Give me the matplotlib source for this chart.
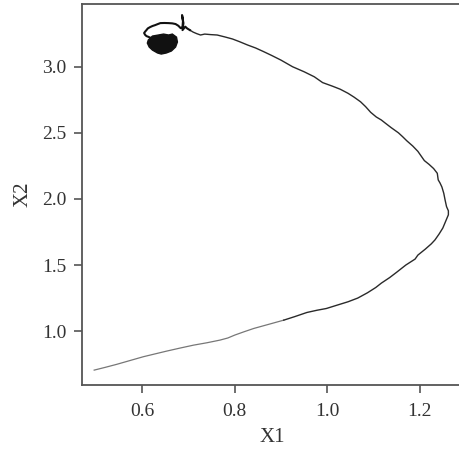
import matplotlib
matplotlib.use("Agg")
from matplotlib import pyplot as plt

# trajectory, in time order (start at lower left)
x1 = [0.496, 0.520, 0.544, 0.572, 0.602, 0.628, 0.653, 0.682, 0.711, 0.740,
      0.768, 0.785, 0.800, 0.820, 0.841, 0.872, 0.906, 0.930, 0.956, 0.978,
      0.998, 1.020, 1.045, 1.066, 1.087, 1.105, 1.117, 1.135, 1.150, 1.170,
      1.190, 1.196, 1.212, 1.225, 1.233, 1.242, 1.250, 1.256, 1.262, 1.262,
      1.258, 1.255, 1.252, 1.248, 1.244, 1.240, 1.238, 1.230, 1.220, 1.210,
      1.204, 1.196, 1.185, 1.172, 1.163, 1.154, 1.138, 1.125, 1.117, 1.106,
      1.094, 1.083, 1.072, 1.058, 1.045, 1.028, 1.012, 0.990, 0.972, 0.950,
      0.925, 0.900, 0.880, 0.862, 0.845, 0.828, 0.810, 0.795, 0.778, 0.762,
      0.748, 0.735, 0.726, 0.718, 0.710, 0.703, 0.697, 0.693, 0.687, 0.689,
      0.686, 0.688, 0.687, 0.683, 0.678, 0.672, 0.665, 0.657, 0.648, 0.639,
      0.633, 0.628, 0.622, 0.617, 0.612, 0.609, 0.606, 0.604, 0.606, 0.609,
      0.614, 0.620]
x2 = [0.705, 0.726, 0.748, 0.776, 0.806, 0.828, 0.849, 0.872, 0.894, 0.912,
      0.932, 0.948, 0.970, 0.995, 1.020, 1.050, 1.083, 1.110, 1.141, 1.158,
      1.171, 1.195, 1.222, 1.250, 1.290, 1.330, 1.363, 1.405, 1.445, 1.500,
      1.545, 1.575, 1.620, 1.660, 1.690, 1.735, 1.780, 1.830, 1.880, 1.910,
      1.942, 1.990, 2.043, 2.090, 2.120, 2.144, 2.194, 2.230, 2.262, 2.290,
      2.320, 2.360, 2.400, 2.440, 2.471, 2.500, 2.540, 2.575, 2.597, 2.620,
      2.655, 2.698, 2.735, 2.770, 2.799, 2.830, 2.852, 2.880, 2.924, 2.962,
      3.000, 3.050, 3.085, 3.115, 3.142, 3.164, 3.190, 3.210, 3.226, 3.240,
      3.243, 3.247, 3.240, 3.250, 3.262, 3.277, 3.290, 3.303, 3.277, 3.330,
      3.391, 3.345, 3.300, 3.292, 3.310, 3.323, 3.328, 3.330, 3.331, 3.330,
      3.322, 3.315, 3.308, 3.300, 3.290, 3.277, 3.265, 3.255, 3.242, 3.232,
      3.225, 3.215]

# dense cluster at the end of the path (outline of the filled blob)
blob_x1 = [0.613, 0.622, 0.635, 0.646, 0.657, 0.665, 0.674, 0.676, 0.672,
           0.663, 0.652, 0.641, 0.633, 0.622, 0.615, 0.611]
blob_x2 = [3.202, 3.232, 3.240, 3.247, 3.240, 3.247, 3.224, 3.187, 3.149,
           3.119, 3.104, 3.096, 3.104, 3.126, 3.149, 3.179]

xticks = [0.6, 0.8, 1.0, 1.2]
yticks = [1.0, 1.5, 2.0, 2.5, 3.0]

plt.rcParams['font.family'] = ['Liberation Serif', 'DejaVu Serif']
plt.rcParams['text.color'] = '#333333'
plt.rcParams['axes.labelcolor'] = '#333333'

fig = plt.figure(figsize=(4.59, 4.53), dpi=100)
ax = fig.add_axes([0.1786, 0.150, 0.83, 0.841])

split = 16
ax.plot(x1[:split + 1], x2[:split + 1], color='#777777', lw=0.9)
ax.plot(x1[split:86], x2[split:86], color='#2a2a2a', lw=1.0)
ax.plot(x1[85:], x2[85:], color='#111111', lw=1.5)
ax.fill(blob_x1, blob_x2, color='#111111', lw=1.0, edgecolor='#111111')

ax.set_xlim(0.4696, 1.2935)
ax.set_ylim(0.592, 3.474)
ax.set_xticks(xticks)
ax.set_yticks(yticks)
ax.set_xticklabels([f"{v:.1f}" for v in xticks])
ax.set_yticklabels([f"{v:.1f}" for v in yticks])
ax.tick_params(axis='x', direction='out', length=6, width=1.2,
               color='#555555', labelcolor='#333333', labelsize=14, pad=7)
ax.tick_params(axis='y', direction='out', length=6, width=1.2,
               color='#555555', labelcolor='#333333', labelsize=14, pad=5)
for s in ax.spines.values():
    s.set_color('#555555')
    s.set_linewidth(1.3)
ax.spines['right'].set_visible(False)

ax.set_xlabel("X1", fontsize=15, labelpad=6)
ax.set_ylabel("X2", fontsize=15, labelpad=7)

fig.savefig("out.png", dpi=100)
